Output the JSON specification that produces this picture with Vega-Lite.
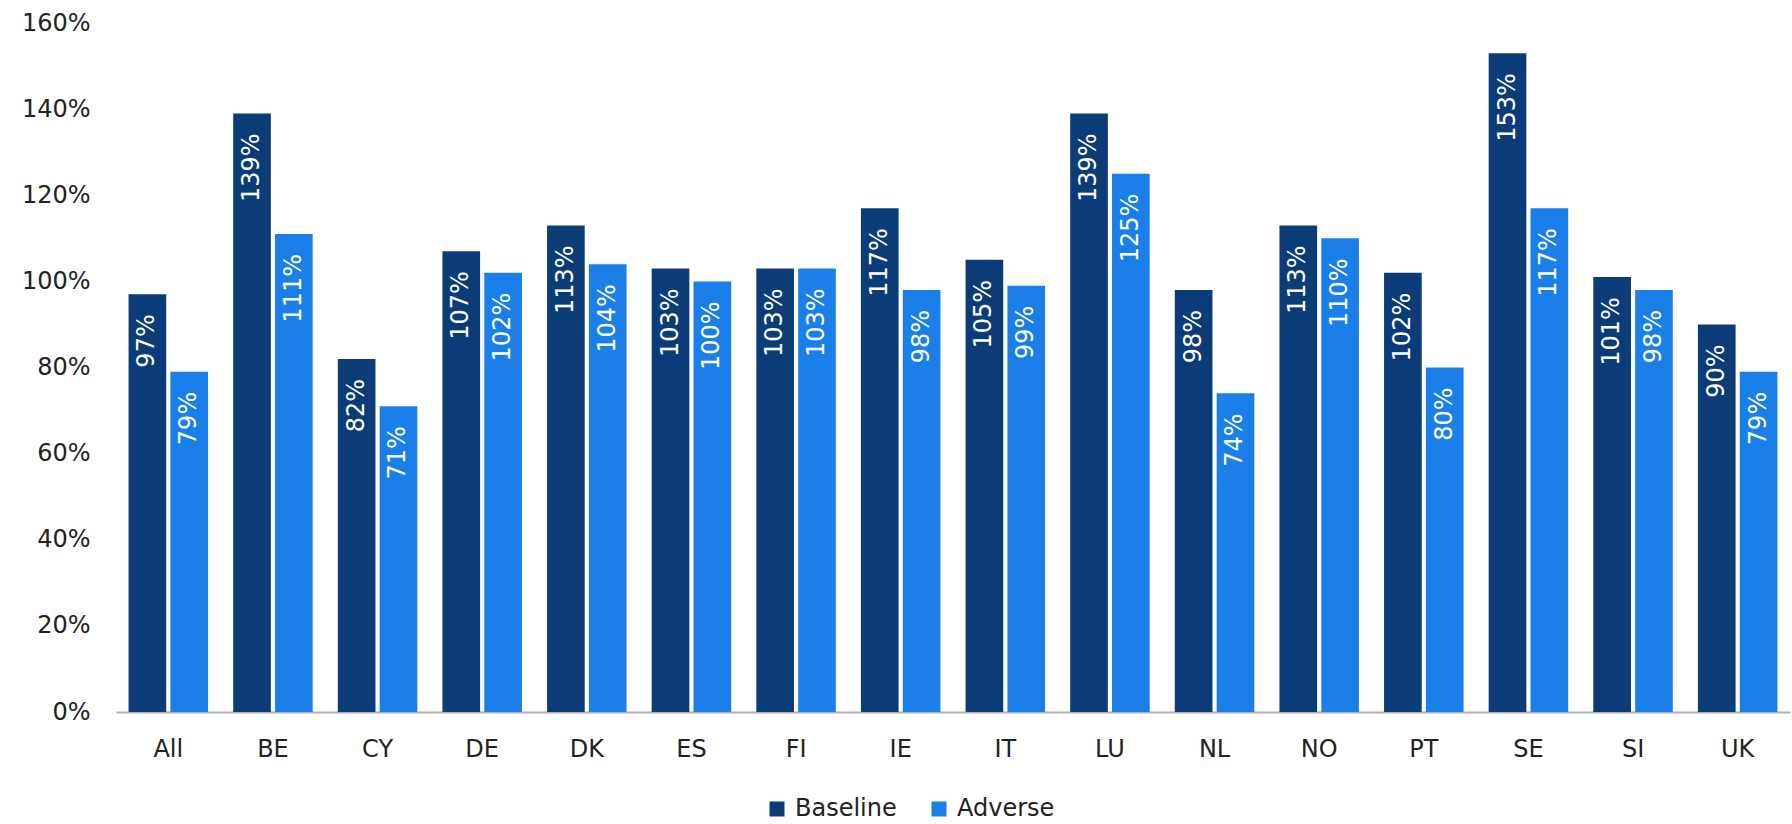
{
  "$schema": "https://vega.github.io/schema/vega-lite/v6.json",
  "width": 1674,
  "height": 689,
  "autosize": {"type": "none"},
  "padding": {"left": 116, "top": 23, "right": 2, "bottom": 112},
  "background": "white",
  "config": {
    "view": {"stroke": null},
    "font": "DejaVu Sans",
    "axis": {"labelFont": "DejaVu Sans", "labelColor": "#222222", "labelFontSize": 24},
    "legend": {"labelFont": "DejaVu Sans", "labelColor": "#222222", "labelFontSize": 24}
  },
  "data": {
    "values": [
      {"country": "All", "scenario": "Baseline", "ratio": 0.97},
      {"country": "All", "scenario": "Adverse", "ratio": 0.79},
      {"country": "BE", "scenario": "Baseline", "ratio": 1.39},
      {"country": "BE", "scenario": "Adverse", "ratio": 1.11},
      {"country": "CY", "scenario": "Baseline", "ratio": 0.82},
      {"country": "CY", "scenario": "Adverse", "ratio": 0.71},
      {"country": "DE", "scenario": "Baseline", "ratio": 1.07},
      {"country": "DE", "scenario": "Adverse", "ratio": 1.02},
      {"country": "DK", "scenario": "Baseline", "ratio": 1.13},
      {"country": "DK", "scenario": "Adverse", "ratio": 1.04},
      {"country": "ES", "scenario": "Baseline", "ratio": 1.03},
      {"country": "ES", "scenario": "Adverse", "ratio": 1.00},
      {"country": "FI", "scenario": "Baseline", "ratio": 1.03},
      {"country": "FI", "scenario": "Adverse", "ratio": 1.03},
      {"country": "IE", "scenario": "Baseline", "ratio": 1.17},
      {"country": "IE", "scenario": "Adverse", "ratio": 0.98},
      {"country": "IT", "scenario": "Baseline", "ratio": 1.05},
      {"country": "IT", "scenario": "Adverse", "ratio": 0.99},
      {"country": "LU", "scenario": "Baseline", "ratio": 1.39},
      {"country": "LU", "scenario": "Adverse", "ratio": 1.25},
      {"country": "NL", "scenario": "Baseline", "ratio": 0.98},
      {"country": "NL", "scenario": "Adverse", "ratio": 0.74},
      {"country": "NO", "scenario": "Baseline", "ratio": 1.13},
      {"country": "NO", "scenario": "Adverse", "ratio": 1.10},
      {"country": "PT", "scenario": "Baseline", "ratio": 1.02},
      {"country": "PT", "scenario": "Adverse", "ratio": 0.80},
      {"country": "SE", "scenario": "Baseline", "ratio": 1.53},
      {"country": "SE", "scenario": "Adverse", "ratio": 1.17},
      {"country": "SI", "scenario": "Baseline", "ratio": 1.01},
      {"country": "SI", "scenario": "Adverse", "ratio": 0.98},
      {"country": "UK", "scenario": "Baseline", "ratio": 0.90},
      {"country": "UK", "scenario": "Adverse", "ratio": 0.79}
    ]
  },
  "encoding": {
    "x": {
      "field": "country",
      "type": "nominal",
      "sort": null,
      "scale": {"paddingInner": 0.24, "paddingOuter": 0.12},
      "axis": {
        "title": null,
        "labelAngle": 0,
        "ticks": false,
        "domainColor": "#b0b0b0",
        "domainWidth": 2,
        "labelPadding": 25
      }
    },
    "xOffset": {
      "field": "scenario",
      "type": "nominal",
      "sort": ["Baseline", "Adverse"],
      "scale": {"paddingInner": 0.1}
    },
    "y": {
      "field": "ratio",
      "type": "quantitative",
      "scale": {"domain": [0, 1.6], "nice": false},
      "axis": {
        "title": null,
        "format": ".0%",
        "values": [0, 0.2, 0.4, 0.6, 0.8, 1.0, 1.2, 1.4, 1.6],
        "labelOverlap": false,
        "grid": false,
        "domain": false,
        "ticks": false,
        "labelPadding": 26
      }
    }
  },
  "layer": [
    {
      "mark": {"type": "bar"},
      "encoding": {
        "color": {
          "field": "scenario",
          "type": "nominal",
          "sort": ["Baseline", "Adverse"],
          "scale": {"domain": ["Baseline", "Adverse"], "range": ["#0b3c77", "#1b7fea"]},
          "legend": {
            "title": null,
            "orient": "none",
            "direction": "horizontal",
            "legendX": 649,
            "legendY": 774,
            "symbolType": "square",
            "symbolSize": 225,
            "symbolStrokeWidth": 0,
            "labelOffset": 6,
            "columnPadding": 30
          }
        }
      }
    },
    {
      "mark": {
        "type": "text",
        "angle": 270,
        "align": "right",
        "baseline": "middle",
        "dx": -20,
        "color": "white",
        "fontSize": 24,
        "font": "DejaVu Sans"
      },
      "encoding": {
        "text": {"field": "ratio", "type": "quantitative", "format": ".0%"}
      }
    }
  ]
}
